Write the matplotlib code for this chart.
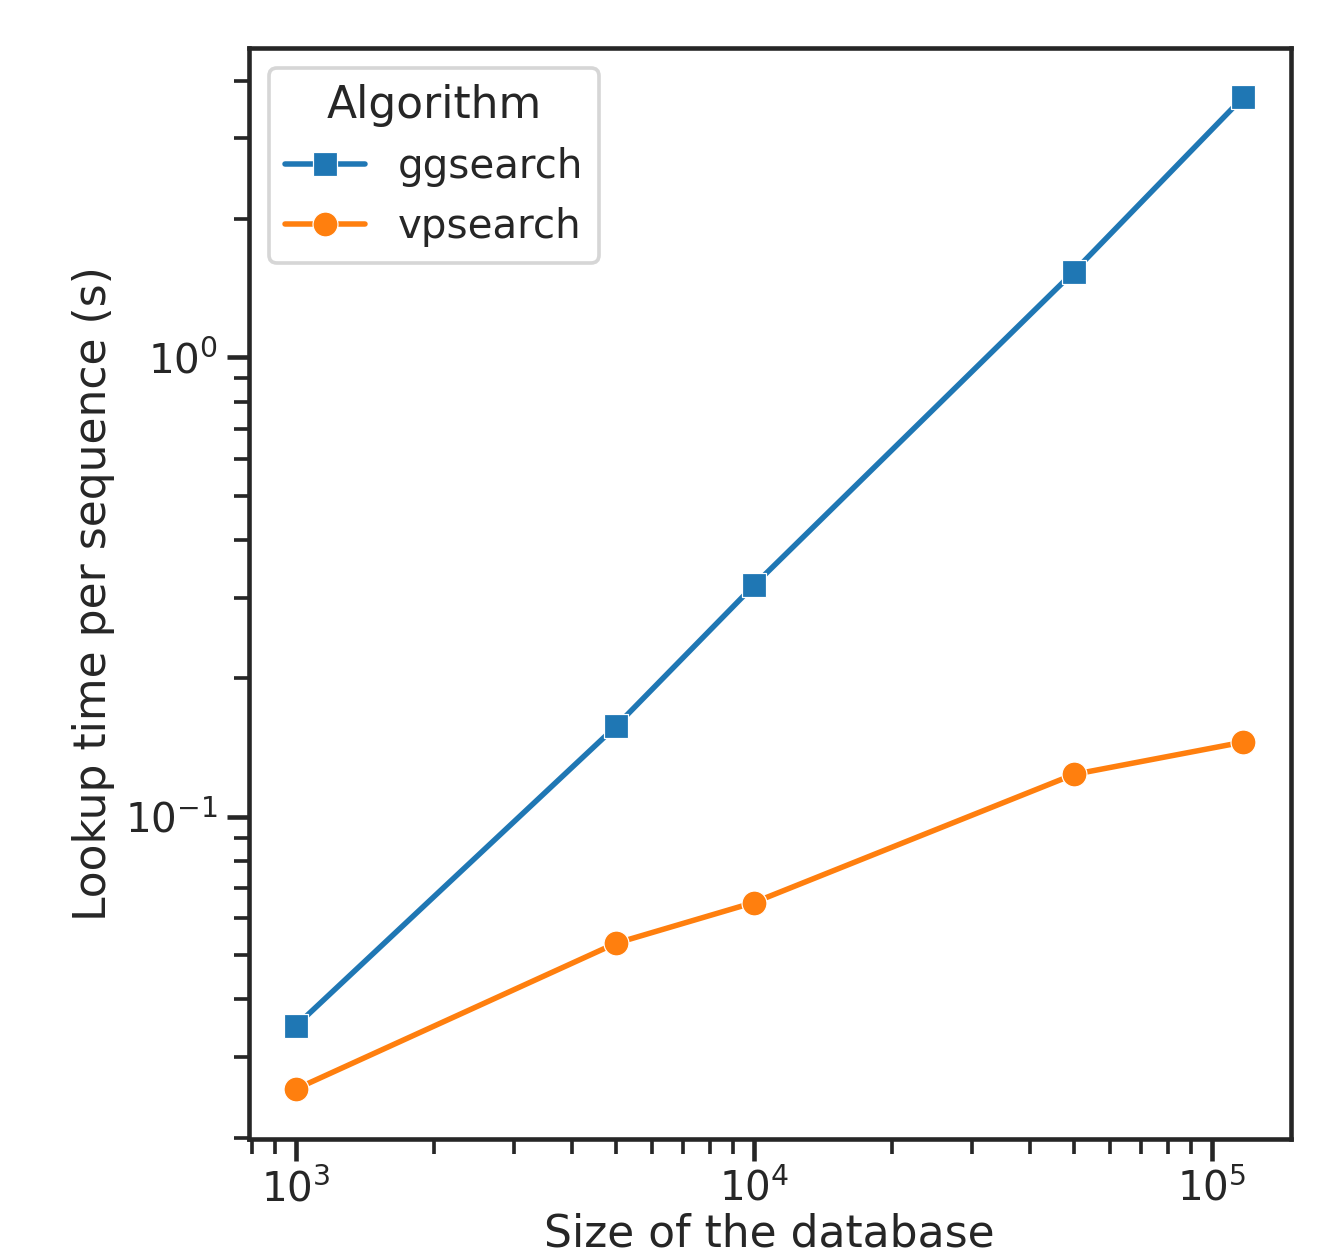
import matplotlib
matplotlib.use("Agg")
import matplotlib.pyplot as plt
import seaborn as sns

# database sizes and lookup time per sequence (s)
sizes = [1000, 5000, 10000, 50000, 117000]
ggsearch = [0.035, 0.1574, 0.3189, 1.539, 3.687]
vpsearch = [0.02551, 0.0530, 0.0650, 0.1236, 0.1453]

sns.set_theme(style="ticks", context="talk")
plt.rcParams['font.family'] = ['DejaVu Sans']

dpi = 176
fig, ax = plt.subplots(figsize=(1334 / dpi, 1249 / dpi), dpi=dpi)
fig.subplots_adjust(left=0.1863, right=0.9674, top=0.9618, bottom=0.0884)

ax.plot(sizes, ggsearch, marker='s', color='#1f77b4', ms=10.2, mec='w',
        mew=0.5, label='ggsearch')
ax.plot(sizes, vpsearch, marker='o', color='#ff7f0e', ms=10.2, mec='w',
        mew=0.5, label='vpsearch')

ax.set_xscale('log')
ax.set_yscale('log')
ax.set_xlabel("Size of the database", labelpad=1)
ax.set_ylabel("Lookup time per sequence (s)")
ax.legend(title="Algorithm", loc='upper left', fontsize=16.5,
          title_fontsize=18)

fig.savefig("out.png", dpi=dpi)
plt.close(fig)
